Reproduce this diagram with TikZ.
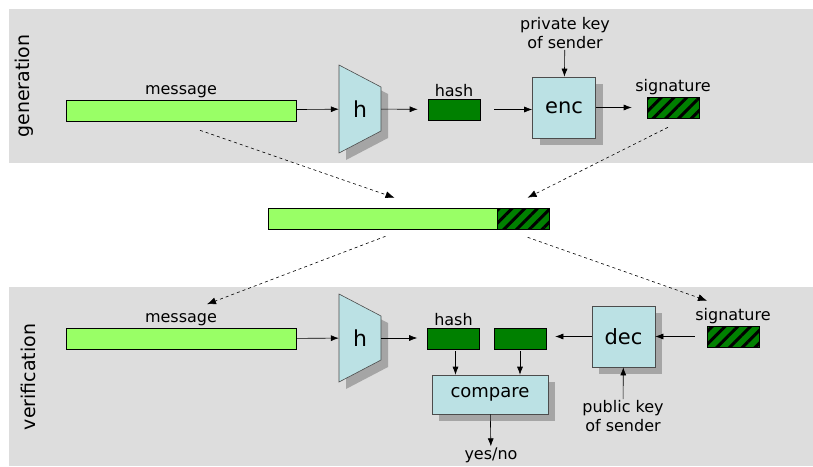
\documentclass[tikz,border=0pt]{standalone}
\usepackage{fontspec}
\setmainfont{DejaVu Sans}
\usepackage{tikz}
\usetikzlibrary{positioning, shadows, patterns.meta, arrows.meta}

\definecolor{panelgray}{RGB}{221,221,221}
\definecolor{msggreen}{RGB}{153,255,102}
\definecolor{hashgreen}{RGB}{0,128,0}
\definecolor{boxcyan}{RGB}{187,225,228}
\definecolor{shadowgray}{RGB}{165,165,165}

\begin{document}
\begin{tikzpicture}[
    x=1pt, y=-1pt,
    node distance=1pt,
    every node/.style={font=\fontsize{16}{19}\selectfont},
    bar/.style={rectangle, draw=black, semithick, fill=msggreen, minimum width=230pt, minimum height=21pt, inner sep=0pt},
    hashbox/.style={rectangle, draw=black, semithick, fill=hashgreen, minimum width=52pt, minimum height=21pt, inner sep=0pt},
    sigbox/.style={hashbox, postaction={pattern={Lines[angle=45, distance=9pt, line width=3pt]}, pattern color=black}},
    box/.style={rectangle, draw=black!70, semithick, fill=boxcyan, minimum width=63pt, minimum height=61pt, inner sep=0pt,
        drop shadow={shadow xshift=7pt, shadow yshift=-7pt, fill=shadowgray, opacity=1, draw=none},
        font=\fontsize{21}{24}\selectfont},
    label/.style={inner sep=1pt, align=center},
    side/.style={rotate=90, font=\fontsize{19}{22}\selectfont},
    arrow/.style={semithick, -{Latex[length=8pt, width=6pt]}},
    dasharrow/.style={semithick, dashed, -{Latex[length=9pt, width=7pt]}}
]
    \useasboundingbox (0,0) rectangle (813,466);

    % panels
    \fill[panelgray] (9,9) rectangle (813,163);
    \fill[panelgray] (9,287) rectangle (813,466);
    \node (gen) [side] at (24,86) {generation};
    \node (ver) [side] at (28,377) {verification};

    % hash function blocks
    \foreach \y/\n in {0/hA, 229/hB} {
        \fill[shadowgray, shift={(7,\y+7)}] (339,65) -- (381,87) -- (381,131) -- (339,153) -- cycle;
        \draw[fill=boxcyan, draw=black!70, semithick, shift={(0,\y)}] (339,65) -- (381,87) -- (381,131) -- (339,153) -- cycle;
        \node (\n) [minimum width=42pt, minimum height=44pt, inner sep=0pt, font=\fontsize{22}{24}\selectfont] at (360,109+\y) {h};
    }

    % generation
    \node (msgA) [bar] at (181,110.5) {};
    \node (msgAlbl) [label, above=of msgA] {message};
    \node (hashA) [hashbox] at (454,109.5) {};
    \node (hashAlbl) [label, above=of hashA] {hash};
    \node (encA) [box] at (564,107.5) {enc};
    \node (keyA) [label] at (565,33) {private key\\of sender};
    \node (sigA) [sigbox] at (673,107.5) {};
    \node (sigAlbl) [label, above=of sigA] {signature};

    \draw [arrow] (msgA) -- (hA);
    \draw [arrow, shorten >=10pt] (hA) -- (hashA);
    \draw [arrow, shorten <=14pt] (hashA) -- (hashA -| encA.west);
    \draw [arrow, shorten >=15pt] (encA) -- (encA -| sigA.west);
    \draw [arrow] (keyA) -- (encA);

    % signed message
    \node (msgM) [bar, minimum width=229pt] at (382.5,218.5) {};
    \node (sigM) [sigbox, right=0pt of msgM] {};

    % verification
    \node (msgB) [bar] at (181,339) {};
    \node (msgBlbl) [label, above=of msgB] {message};
    \node (hashB) [hashbox] at (453.5,338.5) {};
    \node (hashBlbl) [label, above=of hashB] {hash};
    \node (hashD) [hashbox] at (520,338.5) {};
    \node (decB) [box] at (623.5,336.5) {dec};
    \node (sigB) [sigbox] at (733,336.5) {};
    \node (sigBlbl) [label, above=of sigB] {signature};
    \node (cmp) [box, minimum width=116pt, minimum height=39pt, font=\fontsize{18}{21}\selectfont] at (490,394.5) {compare};
    \node (keyB) [label] at (623,416) {public key\\of sender};
    \node (yesno) [label] at (491,455) {yes/no};

    \draw [dasharrow] ([xshift=19pt, yshift=-9pt]msgA.south) -- ([xshift=12pt, yshift=10pt]msgM.north);
    \draw [dasharrow] ([xshift=-5pt, yshift=-9pt]sigA.south) -- ([xshift=4pt, yshift=10pt]sigM.north);
    \draw [dasharrow] ([xshift=3pt, yshift=-7pt]msgM.south) -- ([xshift=26pt, yshift=24pt]msgB.north);
    \draw [dasharrow] ([xshift=4pt, yshift=-8pt]sigM.south) -- ([xshift=-26pt, yshift=25pt]sigB.north);

    \draw [arrow] (msgB) -- (hB);
    \draw [arrow, shorten >=10pt] (hB) -- (hB -| hashB.west);
    \draw [arrow, shorten >=9pt] (decB) -- (decB -| hashD.east);
    \draw [arrow, shorten <=12pt] (sigB) -- (sigB -| decB.east);
    \draw [arrow, shorten <=2pt] ([xshift=2pt]hashB.south) -- ([xshift=2pt]hashB.south |- cmp.north);
    \draw [arrow, shorten <=2pt] (hashD.south) -- (hashD.south |- cmp.north);
    \draw [arrow] (cmp) -- (yesno);
    \draw [arrow] (keyB) -- (decB);
\end{tikzpicture}
\end{document}
